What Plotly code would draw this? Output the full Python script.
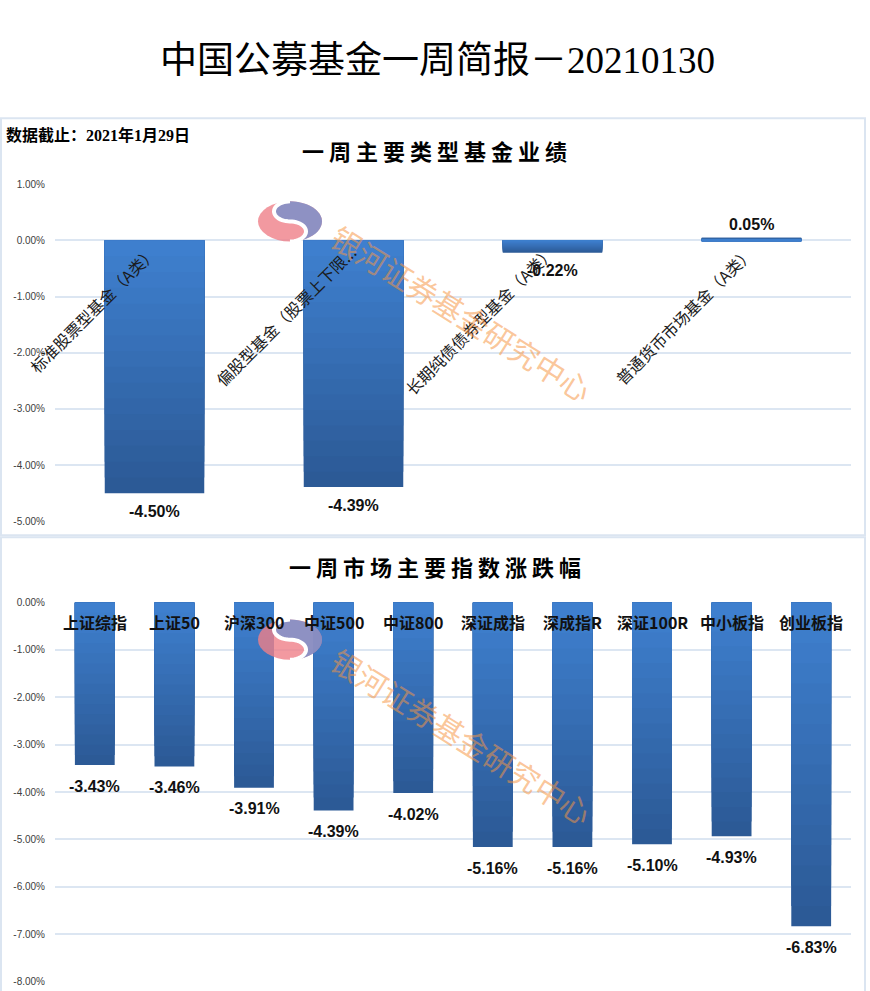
import math
import plotly.graph_objects as go

W, H = 870, 991

# ---- data ----
fund_types = ["标准股票型基金（A类）", "偏股型基金（股票上下限...",
              "长期纯债债券型基金（A类）", "普通货币市场基金（A类）"]
fund_returns = [-4.50, -4.39, -0.22, 0.05]

index_names = ["上证综指", "上证50", "沪深300", "中证500", "中证800",
               "深证成指", "深成指R", "深证100R", "中小板指", "创业板指"]
index_returns = [-3.43, -3.46, -3.91, -4.39, -4.02, -5.16, -5.16, -5.10, -4.93, -6.83]

top_ticks = [1, 0, -1, -2, -3, -4, -5]
bottom_ticks = [0, -1, -2, -3, -4, -5, -6, -7, -8]

CJK = "Noto Sans CJK SC"
GRID = "#dce6f2"


def px(x):
    return x / W


def py(y):
    # the captured page comes out slightly squeezed vertically; pre-compensate
    y = (y - 7.2) / 0.985
    return 1 - y / H


def lerp_color(c1, c2, t):
    a = [int(c1[i:i + 2], 16) for i in (1, 3, 5)]
    b = [int(c2[i:i + 2], 16) for i in (1, 3, 5)]
    return "rgb(%d,%d,%d)" % tuple(round(a[k] + (b[k] - a[k]) * t) for k in range(3))


fig = go.Figure()

# gradient bars: overlay of shrinking bars, dark at the far end, light near zero
N = 16
dark, light = "#2c5a96", "#3e7fce"
for names, vals, xa, ya in [(fund_types, fund_returns, "x", "y"),
                            (index_names, index_returns, "x2", "y2")]:
    for k in range(N):
        frac = 1 - k / N
        fig.add_trace(go.Bar(
            x=list(range(len(names))), y=[v * frac for v in vals],
            width=0.5, marker=dict(color=lerp_color(dark, light, k / (N - 1)), line=dict(width=0)),
            xaxis=xa, yaxis=ya, hoverinfo="skip", showlegend=False))

annotations = []
# value labels
for vals, xa, ya, gap in [(fund_returns, "x", "y", 18), (index_returns, "x2", "y2", 21)]:
    for i, v in enumerate(vals):
        annotations.append(dict(
            x=i, y=v, xref=xa, yref=ya, text=f"{v:.2f}%", showarrow=False,
            xanchor="center", yanchor="middle", yshift=-gap if v < 0 else 13,
            font=dict(family="Liberation Sans", size=16, color="#111111", weight="bold")))

# rotated category labels inside the top plot
for i, name in enumerate(fund_types):
    annotations.append(dict(
        x=i, y=0.05, xref="x", yref="y", text=name, showarrow=False,
        textangle=-45, xanchor="right", yanchor="top", xshift=10,
        font=dict(family=CJK, size=16, color="#1a1a1a")))

# horizontal category labels inside the bottom plot
for i, name in enumerate(index_names):
    annotations.append(dict(
        x=i, y=-0.42, xref="x2", yref="y2", text=name, showarrow=False,
        xanchor="center", yanchor="middle",
        font=dict(family=CJK, size=16, color="#111111", weight="bold")))


def paper_text(x, y, text, font, xanchor="center", angle=0):
    return dict(x=px(x), y=py(y), xref="paper", yref="paper", text=text, showarrow=False,
                xanchor=xanchor, yanchor="middle", textangle=angle, font=font)


annotations += [
    paper_text(437, 62, "中国公募基金一周简报－20210130",
               dict(family="Liberation Serif, " + CJK, size=37, color="#000000")),
    paper_text(4, 136, "数据截止：2021年1月29日",
               dict(family="Liberation Serif, " + CJK, size=16, color="#000000", weight="bold"),
               xanchor="left"),
    paper_text(434, 151, " ".join("一周主要类型基金业绩"),
               dict(family=CJK, size=22, color="#000000", weight="bold")),
    paper_text(435, 566, " ".join("一周市场主要指数涨跌幅"),
               dict(family=CJK, size=22, color="#000000", weight="bold")),
]

# watermark text
for cy in (313, 735):
    annotations.append(paper_text(462, cy, "银河证券基金研究中心",
                                  dict(family=CJK, size=30, color="rgba(247,150,70,0.55)"),
                                  angle=32))

shapes = []
# panel borders
for y0, y1 in [(119, 535), (537, 1010)]:
    shapes.append(dict(type="rect", xref="paper", yref="paper",
                       x0=px(1), x1=px(865), y0=py(y1), y1=py(y0),
                       line=dict(color="#dbe5f1", width=2), layer="below"))


# watermark logo (pink / blue disc split by a white S curve)
def logo(cx, cy, rx=32, ry=20, steps=24):
    pts = []
    for j in range(steps + 1):
        t = math.radians(-90 + 180 * j / steps)
        pts.append((cx + rx * math.cos(t), cy + ry * math.sin(t)))
    s_curve = []
    for j in range(steps + 1):
        s = math.radians(90 - 180 * j / steps)
        s_curve.append((cx + rx * 0.5 * math.cos(s), cy + ry / 2 + ry / 2 * math.sin(s)))
    for j in range(1, steps + 1):
        s = math.radians(90 + 180 * j / steps)
        s_curve.append((cx + rx * 0.5 * math.cos(s), cy - ry / 2 + ry / 2 * math.sin(s)))
    to_path = lambda p: "M " + " L ".join(f"{px(a):.5f},{py(b):.5f}" for a, b in p)
    return [
        dict(type="circle", xref="paper", yref="paper",
             x0=px(cx - rx), x1=px(cx + rx), y0=py(cy + ry), y1=py(cy - ry),
             fillcolor="#ef7f88", line=dict(width=0), opacity=0.8, layer="above"),
        dict(type="path", xref="paper", yref="paper", path=to_path(pts + s_curve) + " Z",
             fillcolor="#7c8fc9", line=dict(width=0), opacity=0.85, layer="above"),
        dict(type="path", xref="paper", yref="paper", path=to_path(s_curve),
             fillcolor="rgba(0,0,0,0)", line=dict(color="white", width=4), layer="above"),
    ]


shapes += logo(290, 222)
shapes += logo(290, 639)

axis_font = dict(family="Liberation Sans", size=10, color="#404040")
fig.update_layout(
    width=W, height=H, margin=dict(l=0, r=0, t=0, b=0),
    paper_bgcolor="white", plot_bgcolor="white",
    barmode="overlay", showlegend=False,
    annotations=annotations, shapes=shapes,
    xaxis=dict(domain=[px(55), px(851)], range=[-0.5, len(fund_types) - 0.5],
               showticklabels=False, showgrid=False, zeroline=False),
    yaxis=dict(domain=[py(521), py(185)], range=[-5, 1], tickvals=top_ticks,
               ticktext=[f"{t:.2f}%" for t in top_ticks], tickfont=axis_font,
               showgrid=True, gridcolor=GRID, gridwidth=1.5, zeroline=False,
               ticklabelstandoff=9),
    xaxis2=dict(domain=[px(55), px(851)], range=[-0.5, len(index_names) - 0.5], anchor="y2",
                showticklabels=False, showgrid=False, zeroline=False),
    yaxis2=dict(domain=[py(980), py(602)], range=[-8, 0], tickvals=bottom_ticks, anchor="x2",
                ticktext=[f"{t:.2f}%" for t in bottom_ticks], tickfont=axis_font,
                showgrid=True, gridcolor=GRID, gridwidth=1.5, zeroline=False,
                ticklabelstandoff=9),
)

# pin the page to exactly the figure size (no default body margin, no overflow)
page_css = (
    "var r=document.documentElement, b=document.body;"
    "[r,b].forEach(function(e){e.style.margin='0';e.style.padding='0';"
    "e.style.height='991px';e.style.overflow='hidden';});"
)
fig.write_html("out.html", config={"displayModeBar": False}, post_script=page_css)
